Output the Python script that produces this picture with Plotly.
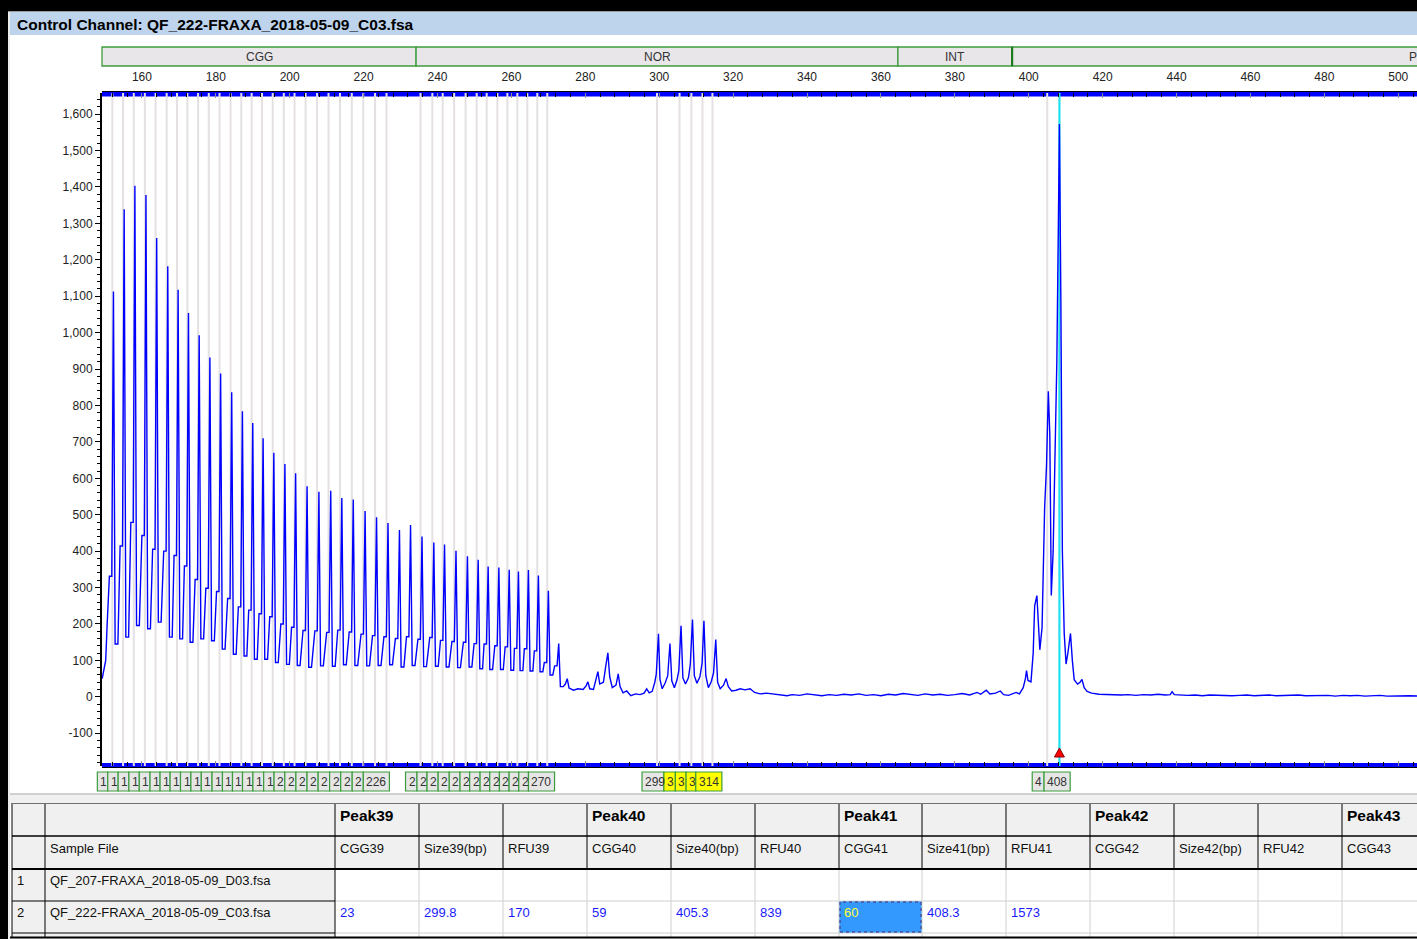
import plotly.graph_objects as go

W, H = 1417, 939

# ---------------------------------------------------------------- data
TITLE = "Control Channel: QF_222-FRAXA_2018-05-09_C03.fsa"

x_tick_vals = [160, 180, 200, 220, 240, 260, 280, 300, 320, 340, 360, 380,
               400, 420, 440, 460, 480, 500]
y_tick_vals = [-100, 0, 100, 200, 300, 400, 500, 600, 700, 800, 900, 1000,
               1100, 1200, 1300, 1400, 1500, 1600]

region_names = ["CGG", "NOR", "INT", "P"]
region_start_bp = [149.2, 234.2, 364.6, 395.5]
region_end_bp = [234.2, 364.6, 395.5, 616.0]

# start of the trace, before the first repeat peak
lead_bp = [149.25, 149.7, 150.2, 150.6]
lead_rfu = [50, 80, 100, 200]

# CGG repeat ladder: peak position, peak height, shoulder before, trough after
cgg_peak_bp = [152.3, 155.2, 158.1, 161.1, 164.0, 167.0, 169.8, 172.6, 175.5, 178.4,
               181.3, 184.3, 187.2, 190.0, 192.8, 195.7, 198.7, 201.6, 204.7, 207.9,
               211.1, 214.1, 217.2, 220.4, 223.5, 226.6, 229.7, 232.7, 235.8, 239.0,
               241.9, 245.0, 248.1, 251.0, 253.7, 256.6, 259.4, 261.9, 264.6, 267.3,
               270.0, 272.8]
cgg_peak_rfu = [1113, 1339, 1403, 1378, 1260, 1182, 1118, 1054, 993, 932,
                888, 836, 784, 752, 710, 670, 639, 614, 578, 563,
                566, 546, 542, 510, 493, 477, 458, 472, 440, 424,
                418, 401, 386, 376, 358, 355, 349, 344, 348, 333,
                291, 146]
cgg_shoulder_rfu = [331, 414, 479, 443, 405, 400, 388, 359, 322, 298,
                    289, 270, 247, 238, 228, 220, 200, 191, 182, 181,
                    177, 183, 178, 172, 168, 165, 160, 165, 158, 163,
                    155, 152, 150, 146, 145, 140, 137, 133, 132, 126,
                    94, 85]
cgg_trough_rfu = [145, 164, 196, 187, 205, 164, 159, 150, 159, 154,
                  131, 117, 112, 103, 103, 94, 89, 86, 81, 85,
                  84, 88, 86, 85, 86, 88, 82, 86, 83, 84,
                  82, 80, 82, 77, 75, 75, 73, 72, 71, 69,
                  60, 28]

# NOR region after the ladder (small peaks + 299.8 .. 315 cluster)
nor_bp = [274.6, 275.1, 275.6, 276.8, 278.0, 279.4, 280.2, 280.7, 281.2, 282.2,
          282.9, 283.4, 283.9, 284.9, 285.5, 286.1, 286.6, 287.3, 288.3, 288.9,
          289.4, 290.2, 291.2, 292.3, 293.6, 294.8, 295.9, 296.6, 297.3, 298.1,
          298.8, 299.2, 299.8, 300.2, 300.8, 301.6, 302.3, 302.9, 303.4, 304.1,
          304.8, 305.3, 305.9, 306.4, 307.1, 307.9, 308.4, 309.0, 309.5, 310.2,
          311.0, 311.6, 312.1, 312.6, 313.3, 314.1, 314.7, 315.3, 315.8, 316.5,
          317.4, 318.1, 318.7, 319.6, 320.8, 321.9, 323.2, 324.6, 325.8, 327.3,
          329.0, 330.8, 332.5, 334.6]
nor_rfu = [35, 50, 24, 18, 22, 20, 30, 41, 22, 20,
           45, 69, 35, 40, 82, 121, 55, 25, 32, 63,
           28, 11, 16, 3, 8, 6, 10, 22, 11, 15,
           40, 62, 173, 48, 22, 38, 58, 146, 44, 25,
           46, 72, 195, 52, 35, 52, 88, 212, 58, 37,
           55, 92, 209, 58, 25, 42, 66, 157, 40, 22,
           32, 50, 28, 16, 18, 22, 19, 22, 12, 8,
           10, 8, 5, 3]

# flat baseline up to the second allele
base_bp = [336, 338, 340, 342, 344, 346, 348, 350, 352, 354, 356, 358, 360,
           362, 364, 366, 368, 370, 372, 374, 376, 378, 380, 382, 384, 386,
           387, 388.5, 389.5, 391, 392.3, 393.2, 394.5, 395.5, 396.6, 397.5]
base_rfu = [6, 4, 8, 5, 3, 6, 4, 7, 5, 8, 4, 6, 3,
            7, 5, 9, 6, 4, 8, 5, 7, 4, 6, 9, 5, 12,
            7, 18, 8, 10, 16, 6, 4, 7, 12, 8]

# peak cluster around 405-408 bp
allele_bp = [398.5, 399.1, 399.4, 399.8, 400.6, 401.2, 401.6, 402.2, 402.6, 403.0,
             403.6, 404.3, 404.8, 405.3, 405.7, 406.1, 406.6, 407.1, 407.6, 408.0,
             408.3, 408.7, 409.1, 409.6, 410.1, 410.6, 411.3, 411.8, 412.3, 413.2,
             413.9, 414.4, 415.0, 415.8]
allele_rfu = [25, 50, 72, 45, 41, 120, 250, 278, 200, 129,
              190, 520, 632, 839, 720, 278, 400, 687, 919, 1281,
              1573, 1075, 400, 174, 90, 121, 174, 100, 47, 35,
              40, 48, 25, 15]

# tail baseline
end_bp = [417, 419, 421, 423, 425, 427, 429, 431, 433, 435, 437, 438.3, 438.8, 439.4,
          441, 443, 445, 447, 449, 451, 453, 455, 457, 459, 461, 463, 465, 467,
          469, 471, 473, 475, 477, 479, 481, 483, 485, 487, 489, 491, 493, 495,
          497, 499, 501, 503, 505.1]
end_rfu = [10, 7, 6, 7, 5, 6, 4, 6, 5, 7, 5, 6, 14, 6,
           5, 4, 5, 3, 5, 4, 5, 3, 4, 5, 3, 4, 5, 3,
           4, 3, 5, 3, 4, 3, 4, 2, 4, 3, 4, 2, 3, 4,
           2, 3, 2, 3, 2]

# bins (called peaks) per group
bins_group1_bp = [152.0, 154.9, 157.8, 160.8, 163.7, 166.7, 169.5, 172.3, 175.2, 178.1,
                  181.0, 184.0, 186.9, 189.7, 192.5, 195.4, 198.4, 201.3, 204.3, 207.4,
                  210.5, 213.6, 216.8, 219.9, 223.1, 226.2]
bins_group2_bp = [235.4, 238.6, 241.4, 244.5, 247.6, 250.6, 253.3, 256.2, 258.9, 261.6,
                  264.3, 267.0, 269.7]
bins_group3_bp = [299.4, 305.5, 308.7, 311.7, 314.4]
bins_group4_bp = [405.0, 408.3]
group3_flagged = [False, True, True, True, True]
selected_bin_bp = 408.3

# results table
table_top = ["", "", "Peak39", "", "", "Peak40", "", "", "Peak41", "", "", "Peak42", "", "", "Peak43"]
table_head = ["", "Sample File", "CGG39", "Size39(bp)", "RFU39", "CGG40", "Size40(bp)", "RFU40",
              "CGG41", "Size41(bp)", "RFU41", "CGG42", "Size42(bp)", "RFU42", "CGG43"]
row_index = ["1", "2"]
sample_files = ["QF_207-FRAXA_2018-05-09_D03.fsa", "QF_222-FRAXA_2018-05-09_C03.fsa"]
row1_values = ["", "", "", "", "", "", "", "", "", "", "", "", ""]
row2_values = ["23", "299.8", "170", "59", "405.3", "839", "60", "408.3", "1573", "", "", "", ""]
selected_cell = (1, 8)  # (row, column) -> CGG41 of sample 2

# ---------------------------------------------------------------- geometry
XMIN, XMAX = 149.2, 505.07
YMIN, YMAX = -190, 1658
PX_L, PX_R, PX_T, PX_B = 102, 1417, 93, 766
FONT = "Liberation Sans, Arial, sans-serif"


def px_of_bp(bp):
    return PX_L + (bp - XMIN) * (PX_R - PX_L) / (XMAX - XMIN)


def fx(px):
    return px / W


def fy(py):
    return 1 - py / H


shapes = []
annotations = []


def rect(x0, y0, x1, y1, fill=None, line=None, lw=1.0, layer="above", dash="solid"):
    shapes.append(dict(type="rect", xref="paper", yref="paper",
                       x0=fx(x0), x1=fx(x1), y0=fy(y1), y1=fy(y0),
                       fillcolor=fill if fill else "rgba(0,0,0,0)",
                       line=dict(color=line if line else "rgba(0,0,0,0)",
                                 width=lw if line else 0, dash=dash),
                       layer=layer))


def hline(x0, x1, y, color, lw=1.0):
    shapes.append(dict(type="line", xref="paper", yref="paper",
                       x0=fx(x0), x1=fx(x1), y0=fy(y), y1=fy(y),
                       line=dict(color=color, width=lw)))


def vline(x, y0, y1, color, lw=1.0):
    shapes.append(dict(type="line", xref="paper", yref="paper",
                       x0=fx(x), x1=fx(x), y0=fy(y0), y1=fy(y1),
                       line=dict(color=color, width=lw)))


def text(x, y, s, size=12, color="#222", xanchor="left", bold=False):
    if bold:
        s = "<b>" + s + "</b>"
    annotations.append(dict(xref="paper", yref="paper", x=fx(x), y=fy(y), text=s,
                            showarrow=False, xanchor=xanchor, yanchor="middle",
                            font=dict(family=FONT, size=size, color=color)))


# ---------------------------------------------------------------- trace
trace_x = list(lead_bp)
trace_y = list(lead_rfu)
for p, h, s, t in zip(cgg_peak_bp, cgg_peak_rfu, cgg_shoulder_rfu, cgg_trough_rfu):
    trace_x += [p - 1.1, p - 0.45, p, p + 0.45, p + 1.2]
    trace_y += [s, s, h, t, t]
for bx, by in ((nor_bp, nor_rfu), (base_bp, base_rfu), (allele_bp, allele_rfu), (end_bp, end_rfu)):
    trace_x += bx
    trace_y += by

fig = go.Figure()
fig.add_trace(go.Scatter(x=trace_x, y=trace_y, mode="lines",
                         line=dict(color="#0000FF", width=1.4),
                         hoverinfo="skip", showlegend=False))
# anchor trace for the bottom tick bar axis
fig.add_trace(go.Scatter(x=[XMIN], y=[0], xaxis="x2", yaxis="y", mode="markers",
                         marker=dict(opacity=0), hoverinfo="skip", showlegend=False))

# ---------------------------------------------------------------- window chrome
rect(0, 0, W, 11, fill="#000000")
hline(8, W, 11.5, "#9A9A9A", 1)
rect(0, 0, 8, H, fill="#000000")
vline(9, 12, H, "#D8D8D8", 1)
rect(10, 12, W, 35, fill="#BDD4EC")
text(15, 24, TITLE, size=15.5, color="#000", bold=True)

# region header row
for i, (name, s, e) in enumerate(zip(region_names, region_start_bp, region_end_bp)):
    x0, x1 = px_of_bp(s), px_of_bp(e)
    rect(x0, 47, x1, 66, fill="#E9E6E9", line="#3C9C3C", lw=1.3)
    if x1 <= W:
        text((x0 + x1) / 2, 57, name, size=12, color="#333", xanchor="center")
    else:
        text(W - 10, 57, name, size=12, color="#333", xanchor="left")
vline(px_of_bp(region_start_bp[3]), 47, 66, "#1E7A1E", 2.2)

# blue tick bars
rect(PX_L, 92, PX_R, 96.5, fill="#0000FF", layer="below")
hline(PX_L, PX_R, 91.5, "#000000", 1.2)
rect(PX_L, 763, PX_R, 767, fill="#0000FF", layer="below")
hline(PX_L, PX_R, 767.5, "#000000", 1.2)

# bin lines
for grp in (bins_group1_bp, bins_group2_bp, bins_group3_bp, bins_group4_bp):
    for b in grp:
        if b == selected_bin_bp:
            continue
        shapes.append(dict(type="line", xref="x", yref="paper", x0=b, x1=b,
                           y0=fy(PX_B), y1=fy(PX_T),
                           line=dict(color="#E4E0E4", width=2), layer="below"))
shapes.append(dict(type="line", xref="x", yref="paper", x0=selected_bin_bp, x1=selected_bin_bp,
                   y0=fy(PX_B), y1=fy(PX_T), line=dict(color="#22E0F0", width=2.2), layer="below"))
# red marker of the selected peak
tri_w = 5 * (XMAX - XMIN) / (PX_R - PX_L)
shapes.append(dict(type="path", xref="x", yref="paper",
                   path=f"M {selected_bin_bp - tri_w},{fy(757)} L {selected_bin_bp + tri_w},{fy(757)} "
                        f"L {selected_bin_bp},{fy(748)} Z",
                   fillcolor="#FF0000", line=dict(color="#8B0000", width=1)))

# bin label boxes
for gi, grp in enumerate((bins_group1_bp, bins_group2_bp, bins_group3_bp, bins_group4_bp)):
    p0 = px_of_bp(grp[0])
    lefts = [p0 - 15 + (px_of_bp(b) - p0) * 0.97 for b in grp]
    labels = [str(int(round(b))) for b in grp]
    rights = lefts[1:] + [lefts[-1] + 6.7 * len(labels[-1]) + 6]
    for k, (l, r, lab) in enumerate(zip(lefts, rights, labels)):
        flagged = gi == 2 and group3_flagged[k]
        rect(l, 772, r, 791, fill="#FFFF00" if flagged else "#E6E6E6", line="#3C9C3C", lw=1.2)
        w = r - l
        shown = lab if k == len(grp) - 1 else lab[:max(1, int((w + 1) // 6.7))]
        text(l + 1, 782, shown, size=12, color="#333")

# separator
rect(10, 793, W, 803, fill="#F0F0F0")
hline(10, W, 794, "#B0B0B0", 1)

# ---------------------------------------------------------------- table
col_edges = [12, 45, 335, 419, 503, 587, 671, 755, 839, 922, 1006, 1090, 1174, 1258, 1342, 1426]
row_edges = [803, 836, 869, 901, 933, 966]

rect(12, 803, 1426, 869, fill="#F0F0F0")
rect(12, 869, 335, 966, fill="#F0F0F0")
rect(335, 869, 1426, 966, fill="#FFFFFF")
sr, sc = selected_cell
rect(col_edges[sc], row_edges[2 + sr], col_edges[sc + 1], row_edges[3 + sr], fill="#3399FF")

for x in col_edges[3:]:
    vline(x, 869, 937, "#D0D0D0", 1)
hline(335, 1426, 901, "#D0D0D0", 1)
hline(335, 1426, 933, "#D0D0D0", 1)
for x in col_edges:
    vline(x, 803, 869, "#000000", 1)
for x in col_edges[:3]:
    vline(x, 869, 937, "#000000", 1)
hline(12, 335, 901, "#000000", 1)
hline(12, 335, 933, "#000000", 1)
hline(12, 1426, 803.5, "#707070", 1)
hline(12, 1426, 836, "#000000", 1.5)
hline(12, 1426, 869, "#000000", 2)
hline(10, W, 937.5, "#000000", 2)
rect(col_edges[sc] + 1, row_edges[2 + sr] + 1, col_edges[sc + 1] - 1, row_edges[3 + sr] - 1,
     line="#4B2A6A", lw=1, dash="dot")

for c, s in enumerate(table_top):
    if s:
        text(col_edges[c] + 3, 815, s, size=15.5, color="#000", bold=True)
for c, s in enumerate(table_head):
    if s:
        text(col_edges[c] + 3, 848, s, size=13, color="#111")
for r, (idx, fname, vals) in enumerate(zip(row_index, sample_files, (row1_values, row2_values))):
    yc = 880 + 32 * r
    text(col_edges[0] + 3, yc, idx, size=13, color="#111")
    text(col_edges[1] + 3, yc, fname, size=13, color="#111")
    for c, v in enumerate(vals):
        if v:
            col = c + 2
            color = "#FFFF30" if (r, col) == selected_cell else "#1A1AFF"
            text(col_edges[col] + 3, yc, v, size=13, color=color)

# ---------------------------------------------------------------- axes / layout
fig.update_layout(
    width=W, height=H, margin=dict(l=0, r=0, t=0, b=0),
    paper_bgcolor="#FFFFFF", plot_bgcolor="rgba(0,0,0,0)",
    showlegend=False, font=dict(family=FONT, size=12, color="#222"),
    shapes=shapes, annotations=annotations,
    xaxis=dict(domain=[fx(PX_L), fx(PX_R)], range=[XMIN, XMAX], side="top", anchor="y",
               tickmode="array", tickvals=x_tick_vals, ticks="inside", ticklen=5,
               tickcolor="#909090", tickwidth=1,
               minor=dict(tickmode="linear", tick0=148, dtick=4, ticks="inside",
                          ticklen=4, tickcolor="#000000", tickwidth=1),
               showgrid=False, zeroline=False, showline=False,
               tickfont=dict(family=FONT, size=12, color="#222"),
               ticklabelstandoff=9, fixedrange=True),
    xaxis2=dict(overlaying="x", anchor="y", side="bottom", range=[XMIN, XMAX],
                tickmode="array", tickvals=x_tick_vals, showticklabels=False,
                ticks="inside", ticklen=5, tickcolor="#909090",
                minor=dict(tickmode="linear", tick0=148, dtick=4, ticks="inside",
                           ticklen=4, tickcolor="#000000", tickwidth=1),
                showgrid=False, zeroline=False, showline=False, fixedrange=True),
    yaxis=dict(domain=[fy(PX_B), fy(PX_T)], range=[YMIN, YMAX],
               tickmode="array", tickvals=y_tick_vals,
               ticktext=[f"{v:,}" for v in y_tick_vals],
               ticks="outside", ticklen=5, tickcolor="#000000",
               minor=dict(tickmode="linear", tick0=0, dtick=20, ticks="outside",
                          ticklen=3, tickcolor="#000000"),
               showline=True, linecolor="#000000", linewidth=2,
               showgrid=False, zeroline=False,
               tickfont=dict(family=FONT, size=12, color="#222"), fixedrange=True),
)

fig.write_html("out.html",
               config={"displayModeBar": False},
               post_script="document.body.style.margin='0';document.body.style.overflow='hidden';")
